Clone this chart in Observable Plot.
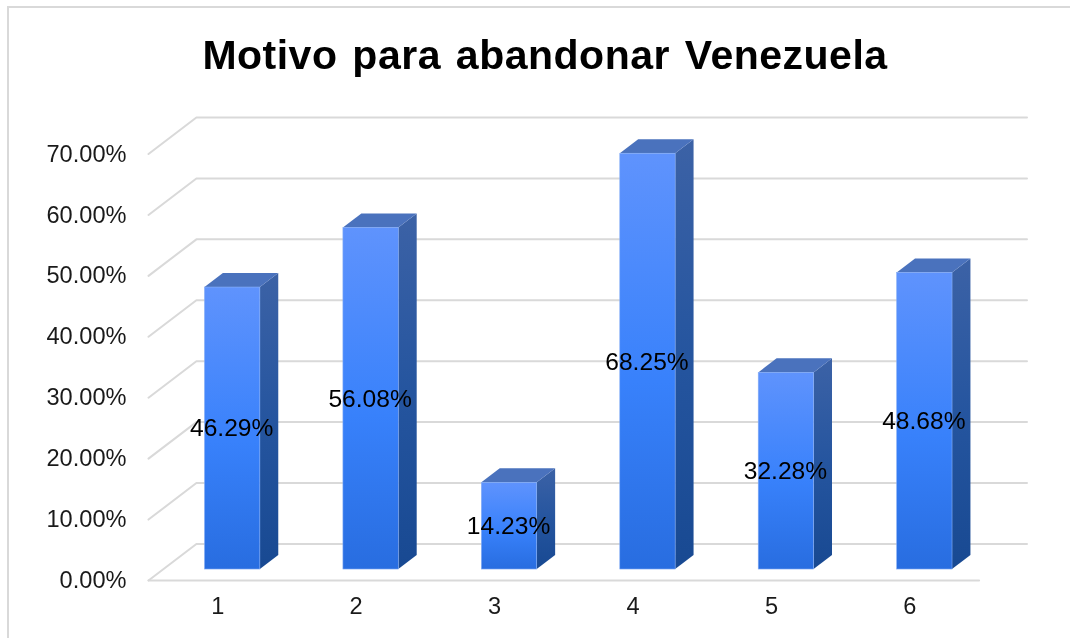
<!DOCTYPE html>
<html>
<head>
<meta charset="utf-8">
<script src="https://cdn.jsdelivr.net/npm/d3@7"></script>
<script src="https://cdn.jsdelivr.net/npm/@observablehq/plot@0.6"></script>
<style>
  html, body { margin: 0; padding: 0; background: #fff; }
  #frame { position: relative; width: 1070px; height: 638px; overflow: hidden; box-sizing: border-box; filter: blur(0.45px); }
  #edge { position: absolute; left: 7px; top: 6px; right: -4px; bottom: -4px; border-left: 2px solid #d9d9d9; border-top: 2px solid #d9d9d9; }
  #title { position: absolute; left: 0; top: 0; width: 1090px; height: 100px; text-align: center;
           font: bold 41px/110px "Liberation Sans", Arial, sans-serif; letter-spacing: 0.5px; word-spacing: 3px; color: #000; white-space: pre; }
  #chart { position: absolute; left: 0; top: 100px; }
  svg { display: block; }
</style>
</head>
<body>
<div id="frame">
  <div id="edge"></div>
  <div id="title">Motivo para abandonar Venezuela</div>
  <div id="chart"></div>
</div>
<script>
const categories = [1, 2, 3, 4, 5, 6];
const values = [46.29, 56.08, 14.23, 68.25, 32.28, 48.68];
const gridTicks = [0, 10, 20, 30, 40, 50, 60, 70];

// 3D depth, in units of the x and y scales
const wallDx = 0.346, wallDy = 6;
const barDx = 0.133, barDy = 2.3;
const barShiftX = 0.108, barBase = 1.8, barHalf = 0.2;
const xMin = 0.5, xMax = 6.5;

const bars = categories.map((c, i) => {
  const left = c + barShiftX - barHalf, right = c + barShiftX + barHalf;
  const top = values[i] + barBase;
  return {c, v: values[i], left, right, center: (left + right) / 2, top, mid: (barBase + top) / 2};
});
const sidePts = bars.flatMap(b => [
  {c: b.c, x: b.right, y1: barBase, y2: b.top},
  {c: b.c, x: b.right + barDx, y1: barBase + barDy, y2: b.top + barDy}
]);
const topPts = bars.flatMap(b => [
  {c: b.c, y: b.top, x1: b.left, x2: b.right},
  {c: b.c, y: b.top + barDy, x1: b.left + barDx, x2: b.right + barDx}
]);
const wallLines = gridTicks.flatMap(v => [
  {v, x: xMin, y: v}, {v, x: xMin + wallDx, y: v + wallDy}, {v, x: xMax + wallDx, y: v + wallDy}
]);
const floorFront = [{x: xMin, y: 0}, {x: xMax, y: 0}];

function gradient(id, stops) {
  const ns = "http://www.w3.org/2000/svg";
  const g = document.createElementNS(ns, "linearGradient");
  g.setAttribute("id", id);
  g.setAttribute("x1", 0); g.setAttribute("y1", 0); g.setAttribute("x2", 0); g.setAttribute("y2", 1);
  for (const [o, c] of stops) {
    const s = document.createElementNS(ns, "stop");
    s.setAttribute("offset", o); s.setAttribute("stop-color", c);
    g.appendChild(s);
  }
  return g;
}
const defs = () => {
  const d = document.createElementNS("http://www.w3.org/2000/svg", "defs");
  d.appendChild(gradient("frontFace", [[0, "#5f93fd"], [0.55, "#3881fb"], [1, "#286de0"]]));
  d.appendChild(gradient("sideFace", [[0, "#3c62a6"], [0.5, "#25559f"], [1, "#184992"]]));
  return d;
};

const textColor = "#1a1a1a";
const chart = Plot.plot({
  width: 1070,
  height: 538,
  marginLeft: 148,
  marginRight: 43.5,
  marginTop: 17,
  marginBottom: 58,
  x: {domain: [xMin, xMax + wallDx], axis: null},
  y: {domain: [0, 70 + wallDy], axis: null},
  style: {fontFamily: "'Liberation Sans', Arial, sans-serif", background: "transparent", overflow: "visible"},
  marks: [
    defs,
    Plot.line(wallLines, {x: "x", y: "y", z: "v", stroke: "#d9d9d9", strokeWidth: 2}),
    Plot.line(floorFront, {x: "x", y: "y", stroke: "#d9d9d9", strokeWidth: 2}),
    Plot.areaY(sidePts, {x: "x", y1: "y1", y2: "y2", z: "c", fill: "url(#sideFace)"}),
    Plot.areaX(topPts, {y: "y", x1: "x1", x2: "x2", z: "c", fill: "#4a72bd"}),
    Plot.rect(bars, {x1: "left", x2: "right", y1: barBase, y2: "top", fill: "url(#frontFace)", stroke: "#86aef5", strokeWidth: 0.6}),
    Plot.axisY({ticks: gridTicks, tickSize: 0, tickPadding: 22, tickFormat: d => d.toFixed(2) + "%", fontSize: 23.6, fill: textColor, label: null}),
    Plot.axisX({ticks: categories, tickSize: 0, tickPadding: 17, tickFormat: d => String(d), fontSize: 23.6, fill: textColor, label: null}),
    Plot.text(bars, {x: "center", y: "mid", dx: -1, text: d => d.v.toFixed(2) + "%", fontSize: 24.6, fill: "#000"})
  ]
});
document.getElementById("chart").appendChild(chart);
</script>
</body>
</html>
